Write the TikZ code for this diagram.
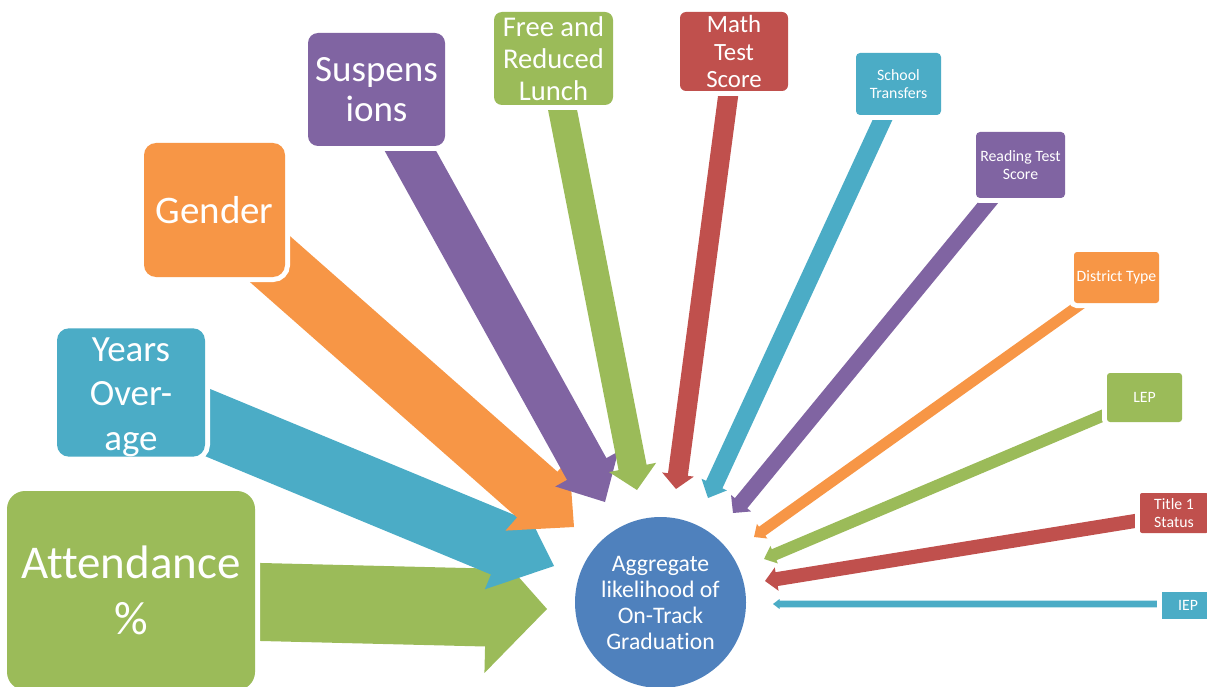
\documentclass[tikz,border=0pt]{standalone}
\usepackage{fontspec}
\setmainfont{Carlito}[Ligatures={NoCommon}]
\usetikzlibrary{calc}
\pgfdeclarelayer{bg}
\pgfsetlayers{bg,main}
\definecolor{ogreen}{HTML}{9BBB59}
\definecolor{oblue}{HTML}{4BACC6}
\definecolor{oorange}{HTML}{F79646}
\definecolor{opurple}{HTML}{8064A2}
\definecolor{ored}{HTML}{C0504D}
\definecolor{ocircle}{HTML}{4F81BD}
% #1 colour, #2 tail, #3 tip, #4 half shaft, #5 half head, #6 head length
\newcommand\blockarr[6]{%
  \coordinate (ba-h) at ($(#3)!#6!(#2)$);
  \fill[#1] ($(#2)!#4!90:(#3)$) -- ($(ba-h)!#4!90:(#3)$) -- ($(ba-h)!#5!90:(#3)$) -- (#3)
    -- ($(ba-h)!#5!-90:(#3)$) -- ($(ba-h)!#4!-90:(#3)$) -- ($(#2)!#4!-90:(#3)$) -- cycle;
}
\begin{document}
\begin{tikzpicture}[x=1pt,y=-1pt,
  box/.style={fill=#1, text=white, align=center, inner sep=0pt, outer sep=0pt,
    preaction={draw=white, line width=10pt}}]
\useasboundingbox (0,0) rectangle (1207,687);
\clip (0,0) rectangle (1207,687);

% boxes
\node[box=ogreen, rounded corners=18pt, minimum width=248pt, minimum height=199pt,
  font=\fontsize{47}{56}\selectfont] (att) at (131,590.5) {Attendance\\\%};
\node[box=oblue, rounded corners=12pt, minimum width=148pt, minimum height=127pt,
  font=\fontsize{37}{44.5}\selectfont] (yrs) at (131,392.5) {\rule{0pt}{33pt}Years\\Over-\\age};
\node[box=oorange, rounded corners=12pt, minimum width=141pt, minimum height=134pt,
  font=\fontsize{39}{46}\selectfont] (gen) at (214.5,210) {Gender};
\node[box=opurple, rounded corners=10pt, minimum width=137pt, minimum height=113pt,
  font=\fontsize{37}{40}\selectfont] (sus) at (376.5,89.5) {Suspens\\ions};
\node[box=ogreen, rounded corners=8pt, minimum width=119pt, minimum height=93pt,
  font=\fontsize{28.6}{32}\selectfont] (frl) at (553.5,58.5) {Free and\\Reduced\\Lunch};
\node[box=ored, rounded corners=6pt, minimum width=108pt, minimum height=79pt,
  font=\fontsize{24.8}{27.5}\selectfont] (mts) at (734,51.5) {Math\\Test\\Score};
\node[box=oblue, rounded corners=4pt, minimum width=85pt, minimum height=62pt,
  font=\fontsize{15.8}{18}\selectfont] (sch) at (898.5,84) {School\\Transfers};
\node[box=opurple, rounded corners=4pt, minimum width=89pt, minimum height=66pt,
  font=\fontsize{15.8}{18}\selectfont] (rts) at (1020.5,165) {Reading Test\\Score};
\node[box=oorange, rounded corners=3pt, minimum width=85pt, minimum height=51pt,
  font=\fontsize{15.8}{18}\selectfont] (dis) at (1116.5,277.5) {District Type};
\node[box=ogreen, rounded corners=3pt, minimum width=75pt, minimum height=49pt,
  font=\fontsize{15.8}{18}\selectfont] (lep) at (1144.5,397.5) {LEP};
\node[box=ored, rounded corners=2pt, minimum width=68pt, minimum height=40pt,
  font=\fontsize{15.8}{18}\selectfont] (tis) at (1174,513) {Title 1\\Status};
\node[box=oblue, rounded corners=0pt, minimum width=52pt, minimum height=27pt,
  font=\fontsize{15.8}{18}\selectfont] (iep) at (1188,605.5) {IEP};

% centre
\node[circle, fill=ocircle, minimum size=171pt, inner sep=0pt, text=white, align=center,
  font=\fontsize{23.7}{26}\selectfont] (agg) at (660.5,602.5)
  {Aggregate\\likelihood of\\On-Track\\Graduation};

% arrow ends
\coordinate (att-o) at ([shift={(-55,10)}]att.east);
\coordinate (yrs-o) at ([shift={(-35,14.5)}]yrs.east);
\coordinate (gen-o) at ([shift={(-43.5,-43)}]gen.south east);
\coordinate (sus-o) at ([shift={(15.1,-29)}]sus.south);
\coordinate (frl-o) at ([shift={(3.7,-22.4)}]frl.south);
\coordinate (mts-o) at ([shift={(-3.4,-13.8)}]mts.south);
\coordinate (sch-o) at ([shift={(-8.1,-12.2)}]sch.south);
\coordinate (rts-o) at ([shift={(-24,-5.6)}]rts.south);
\coordinate (dis-o) at ([shift={(15,-4.7)}]dis.south west);
\coordinate (lep-o) at ([shift={(13.4,10.7)}]lep.west);
\coordinate (tis-o) at ([shift={(14.7,4.8)}]tis.west);
\coordinate (iep-o) at ([shift={(13,-1.5)}]iep.west);

\coordinate (att-t) at (547,609);
\coordinate (yrs-t) at (554,566);
\coordinate (gen-t) at (574,527);
\coordinate (sus-t) at (605,502);
\coordinate (frl-t) at (637,490);
\coordinate (mts-t) at (676,489);
\coordinate (sch-t) at (708,498);
\coordinate (rts-t) at (733,513);
\coordinate (dis-t) at (754,537);
\coordinate (lep-t) at (764,559);
\coordinate (tis-t) at (765,581);
\coordinate (iep-t) at (773,604);

\begin{pgfonlayer}{bg}
\blockarr{ogreen}{att-o}{att-t}{39pt}{65.5pt}{61pt}
\blockarr{oblue}{yrs-o}{yrs-t}{32pt}{48pt}{55pt}
\blockarr{oorange}{gen-o}{gen-t}{30.5pt}{48pt}{49pt}
\blockarr{opurple}{sus-o}{sus-t}{22.5pt}{36pt}{37.7pt}
\blockarr{ogreen}{frl-o}{frl-t}{14.25pt}{24pt}{23pt}
\blockarr{ored}{mts-o}{mts-t}{10pt}{16pt}{14.6pt}
\blockarr{oblue}{sch-o}{sch-t}{9pt}{14pt}{14.8pt}
\blockarr{opurple}{rts-o}{rts-t}{8pt}{13pt}{12.7pt}
\blockarr{oorange}{dis-o}{dis-t}{5.5pt}{9pt}{10pt}
\blockarr{ogreen}{lep-o}{lep-t}{6pt}{9.5pt}{11pt}
\blockarr{ored}{tis-o}{tis-t}{7pt}{11.8pt}{11.8pt}
\blockarr{oblue}{iep-o}{iep-t}{3.3pt}{5pt}{6.5pt}
\end{pgfonlayer}
\end{tikzpicture}
\end{document}
